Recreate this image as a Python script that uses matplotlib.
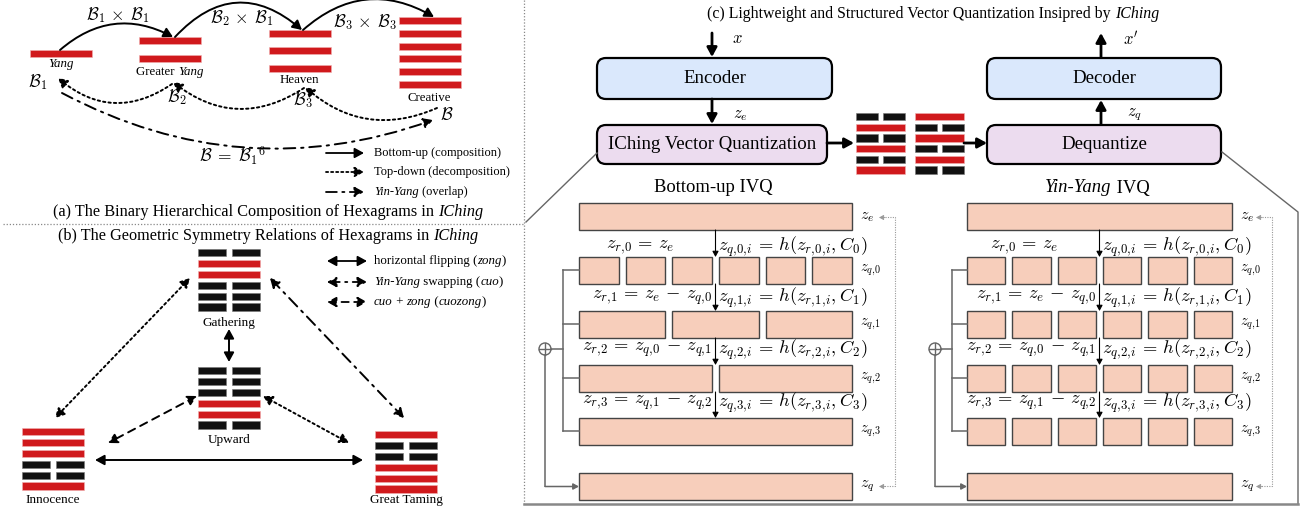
import matplotlib
matplotlib.use('Agg')
import matplotlib.pyplot as plt
from matplotlib.patches import Rectangle, FancyBboxPatch, Circle

plt.rcParams['mathtext.fontset'] = 'cm'
SERIF = 'Liberation Serif'

# ------------------------------------------------------------------ data
chain_names = ['Yang', 'Greater Yang', 'Heaven', 'Creative']
chain_lines = [1, 2, 3, 6]
chain_ops = [r'$\mathcal{B}_1\,\times\,\mathcal{B}_1$', r'$\mathcal{B}_2\,\times\,\mathcal{B}_1$',
             r'$\mathcal{B}_3\,\times\,\mathcal{B}_3$']
chain_syms = [r'$\mathcal{B}_1$', r'$\mathcal{B}_2$', r'$\mathcal{B}_3$', r'$\mathcal{B}$']
overlap_eq = r'$\mathcal{B}\;=\;\mathcal{B}_1{}^6$'
legend_a = [[('Bottom-up (composition)', 'normal')],
            [('Top-down (decomposition)', 'normal')],
            [('Yin-Yang', 'italic'), (' (overlap)', 'normal')]]
legend_b = [[('horizontal flipping (', 'normal'), ('zong', 'italic'), (')', 'normal')],
            [('Yin-Yang', 'italic'), (' swapping (', 'normal'), ('cuo', 'italic'), (')', 'normal')],
            [('cuo', 'italic'), (' + ', 'normal'), ('zong', 'italic'), (' (', 'normal'),
             ('cuozong', 'italic'), (')', 'normal')]]
title_a = [('(a) The Binary Hierarchical Composition of Hexagrams in ', 'normal'), ('IChing', 'italic')]
title_b = [('(b) The Geometric Symmetry Relations of Hexagrams in ', 'normal'), ('IChing', 'italic')]
title_c = [('(c) Lightweight and Structured Vector Quantization Insipred by ', 'normal'),
           ('IChing', 'italic')]
# hexagram lines listed top -> bottom, 1 = yang (solid), 0 = yin (broken)
hex_names = ['Gathering', 'Upward', 'Innocence', 'Great Taming']
hex_patterns = [[0, 1, 1, 0, 0, 0],
                [0, 0, 0, 1, 1, 0],
                [1, 1, 1, 0, 0, 1],
                [1, 0, 0, 1, 1, 1]]
code_patterns = [[0, 1, 0, 1, 0, 1],
                 [1, 0, 1, 0, 1, 0]]
box_texts = ['Encoder', 'IChing Vector Quantization', 'Decoder', 'Dequantize']
ivq_titles = [[('Bottom-up IVQ', 'normal')], [('Yin-Yang', 'italic'), (' IVQ', 'normal')]]
ivq_segments = [[6, 3, 2, 1], [6, 6, 6, 6]]
residual_eqs = [r'$z_{r,\!0}\,=\,z_e$', r'$z_{r,\!1}\,=\,z_e\,-\,z_{q,\!0}$',
                r'$z_{r,\!2}\,=\,z_{q,\!0}\,-\,z_{q,\!1}$', r'$z_{r,\!3}\,=\,z_{q,\!1}\,-\,z_{q,\!2}$']
quant_eqs = [r'$z_{q,\!0,\!i}\,=\,h(z_{r,\!0,\!i},C_0)$', r'$z_{q,\!1,\!i}\,=\,h(z_{r,\!1,\!i},C_1)$',
             r'$z_{q,\!2,\!i}\,=\,h(z_{r,\!2,\!i},C_2)$', r'$z_{q,\!3,\!i}\,=\,h(z_{r,\!3,\!i},C_3)$']
row_labels = [r'$z_e$', r'$z_{q,\!0}$', r'$z_{q,\!1}$', r'$z_{q,\!2}$', r'$z_{q,\!3}$', r'$z_q$']

# ------------------------------------------------------------------ style
RED = '#d0191c'
BLACK = '#111111'
BLUE = '#dae8fc'
PURPLE = '#ecdcef'
PEACH = '#f7cebb'
GRAY = '#666666'

W, H = 1307, 511
fig = plt.figure(figsize=(W / 100, H / 100), dpi=100)
ax = fig.add_axes([0, 0, 1, 1])
ax.set_xlim(0, W)
ax.set_ylim(H, 0)
ax.axis('off')
R = fig.canvas.get_renderer()


def twidth(s, size, style):
    t1 = ax.text(0, 0, s + '|', fontsize=size, style=style, family=SERIF)
    t2 = ax.text(0, 0, '|', fontsize=size, style=style, family=SERIF)
    w = t1.get_window_extent(R).width - t2.get_window_extent(R).width
    t1.remove(); t2.remove()
    return w


def rich(x, y, parts, size, ha='center'):
    ws = [twidth(s, size, st) for s, st in parts]
    tot = sum(ws)
    x0 = x - tot / 2 if ha == 'center' else (x if ha == 'left' else x - tot)
    for (s, st), w in zip(parts, ws):
        ax.text(x0, y, s, fontsize=size, style=st, family=SERIF, ha='left', va='center')
        x0 += w


def arrow(p0, p1, style='-|>', ls='-', lw=1.4, color='k', rad=0.0, ms=10, hl=0.55, hw=0.3):
    st = style if style == '-' else f'{style},head_length={hl},head_width={hw}'
    ax.annotate('', xy=p1, xytext=p0,
                arrowprops=dict(arrowstyle=st, lw=lw, ls=ls, color=color, shrinkA=0, shrinkB=0,
                                mutation_scale=ms, connectionstyle=f'arc3,rad={rad}'))


def draw_hex(x0, top, w, pattern, pitch, thick, gap):
    for k, v in enumerate(pattern):
        y = top + k * pitch
        if v:
            ax.add_patch(Rectangle((x0, y), w, thick, fc=RED, ec='#f0b0b0', lw=0.4))
        else:
            half = (w - gap) / 2
            for xx in (x0, x0 + half + gap):
                ax.add_patch(Rectangle((xx, y), half, thick, fc=BLACK, ec='#777777', lw=0.4))


DOT = (0, (1.2, 1.6))
DASH = (0, (4, 3))
DASHDOT = (0, (6, 3, 1.2, 3))

# ------------------------------------------------------------------ panel (a)
chain_x = [30, 139, 269, 399]
chain_top = [50, 37, 30, 17]
chain_pitch = [0, 18, 17.5, 12.8]
chain_lab_y = [64, 72, 80, 98]
for name, n, x0, t, p, ly in zip(chain_names, chain_lines, chain_x, chain_top, chain_pitch, chain_lab_y):
    draw_hex(x0, t, 62, [1] * n, p, 7, 6)
    if name == 'Yang':
        rich(x0 + 31, ly, [('Yang', 'italic')], 9.3)
    elif name == 'Greater Yang':
        rich(x0 + 31, ly, [('Greater ', 'normal'), ('Yang', 'italic')], 9.3)
    else:
        rich(x0 + 30, ly, [(name, 'normal')], 9.3)

# bottom-up arcs
arrow((60, 50), (173, 37), rad=-0.34)
arrow((175, 37), (302, 30), rad=-0.48)
arrow((303, 30), (434, 17), rad=-0.36)
for s, (x, y) in zip(chain_ops, [(118, 15), (242, 18), (365, 22)]):
    ax.text(x, y, s, fontsize=12.5, ha='center', va='center')
# top-down arcs
arrow((437, 108), (305, 87), ls=DOT, rad=-0.32)
arrow((304, 88), (173, 82), ls=DOT, rad=-0.36)
arrow((172, 84), (58, 78), ls=DOT, rad=-0.38)
# yin-yang arc
arrow((62, 93), (433, 120), ls=DASHDOT, rad=0.22)
for s, (x, y) in zip(chain_syms, [(38, 82), (177, 97), (303, 100), (447, 115)]):
    ax.text(x, y, s, fontsize=12.5, ha='center', va='center')
ax.text(233, 156, overlap_eq, fontsize=12.5, ha='center', va='center')

for parts, y, ls in zip(legend_a, [153, 172, 192], ['-', DOT, DASHDOT]):
    arrow((326, y), (364, y), ls=ls, lw=1.3)
    rich(374, y, parts, 9.0, ha='left')

rich(268, 212, title_a, 11.7)
ax.plot([3, 524], [224, 224], color='#888888', lw=0.9, ls=(0, (1, 1.5)))
rich(268, 236, title_b, 11.7)

# ------------------------------------------------------------------ panel (b)
hex_pos = [(198, 249), (198, 367), (22, 428), (375, 431)]
hex_lab = [(229, 323), (229, 440), (53, 500), (406, 500)]
for name, pat, (x0, t), (lx, ly) in zip(hex_names, hex_patterns, hex_pos, hex_lab):
    draw_hex(x0, t, 62, pat, 10.9, 7.5, 6)
    rich(lx, ly, [(name, 'normal')], 9.5)

arrow((229, 329), (229, 362), style='<|-|>')
arrow((95, 460), (363, 460), style='<|-|>')
arrow((190, 278), (55, 418), style='<|-|>', ls=DOT)
arrow((270, 278), (404, 418), style='<|-|>', ls=DASHDOT)
arrow((197, 396), (108, 443), style='<|-|>', ls=DASH)
arrow((263, 396), (349, 443), style='<|-|>', ls=DOT)

for parts, y, ls in zip(legend_b, [261, 282, 302], ['-', DASHDOT, DASH]):
    arrow((327, y), (367, y), style='<|-|>', ls=ls, lw=1.3)
    rich(374, y, parts, 9.3, ha='left')

# ------------------------------------------------------------------ panel (c)
ax.plot([524, 524], [0, 504], color='#888888', lw=0.9, ls=(0, (1, 1.5)))
rich(933, 14, title_c, 11.4)

boxes = [(597, 58, 235, 41, BLUE), (597, 125, 230, 39, PURPLE),
         (987, 58, 234, 41, BLUE), (987, 125, 234, 39, PURPLE)]
for txt, (x0, y0, w, h, fc) in zip(box_texts, boxes):
    ax.add_patch(FancyBboxPatch((x0, y0), w, h, boxstyle='round,pad=0,rounding_size=9',
                                fc=fc, ec='k', lw=1.6))
    rich(x0 + w / 2, y0 + h / 2, [(txt, 'normal')], 13.6)

arrow((712, 33), (712, 57), lw=2)
arrow((712, 99), (712, 124), lw=2)
arrow((1101, 124), (1101, 100), lw=2)
arrow((1101, 57), (1101, 33), lw=2)
arrow((827, 143), (854, 143), lw=2)
arrow((964, 143), (987, 143), lw=2)
ax.text(737, 38, r'$x$', fontsize=12, ha='center', va='center')
ax.text(740, 114, r'$z_e$', fontsize=12, ha='center', va='center')
ax.text(1135, 114, r'$z_q$', fontsize=12, ha='center', va='center')
ax.text(1131, 40, r"$x'$", fontsize=12, ha='center', va='center')

for pat, x0 in zip(code_patterns, [856, 915]):
    draw_hex(x0, 113, 49, pat, 10.7, 7.3, 5)

# funnel / frame
ax.plot([597, 526], [153, 222], color=GRAY, lw=1.0)
ax.plot([1222, 1298, 1298], [152, 212, 504], color=GRAY, lw=1.0)
ax.plot([524, 1298], [504, 504], color='#888888', lw=1.8)

row_top = [203, 257, 311, 365, 418, 473]
row_h = 27
eq_y = [247, 298, 350, 403]
ivq_x = [(579, 852), (967, 1232)]
brack_x = [563, 952]
oplus_x = [545, 935]
dot_x = [895, 1272]
for ti, (segs, (L, Rr), bx, ox, dx) in enumerate(zip(ivq_segments, ivq_x, brack_x, oplus_x, dot_x)):
    cx = (L + Rr) / 2
    rich(cx - 2, 188, ivq_titles[ti], 13.4)
    # z_e and z_q full bars
    for rt in (row_top[0], row_top[5]):
        ax.add_patch(Rectangle((L, rt), Rr - L, row_h, fc=PEACH, ec='#444444', lw=1.0))
    # quantised rows
    for r, n in enumerate(segs):
        gap = 7
        w = (Rr - L - (n - 1) * gap) / n
        for k in range(n):
            ax.add_patch(Rectangle((L + k * (w + gap), row_top[r + 1]), w, row_h,
                                   fc=PEACH, ec='#444444', lw=1.0))
    # equations and small arrows
    for r in range(4):
        y_from = row_top[r] + row_h
        y_to = row_top[r + 1]
        arrow((cx, y_from), (cx, y_to), lw=0.8, ms=6)
        if r == 0:
            ax.text(cx - 75, eq_y[r], residual_eqs[r], fontsize=13.3, ha='center', va='center')
        else:
            ax.text(cx - 3, eq_y[r], residual_eqs[r], fontsize=13.3, ha='right', va='center')
        ax.text(cx + 3, eq_y[r], quant_eqs[r], fontsize=13.3, ha='left', va='center')
    # row labels
    for r, lab in enumerate(row_labels):
        big = r in (0, 5)
        ax.text(Rr + 8, row_top[r] + row_h / 2, lab, fontsize=11.5 if big else 10.5,
                ha='left', va='center')
    # bracket with oplus
    yc = [row_top[r] + row_h / 2 for r in range(1, 5)]
    ax.plot([bx, bx], [yc[0], yc[-1]], color=GRAY, lw=1.1)
    for y in yc:
        ax.plot([bx, L], [y, y], color=GRAY, lw=1.1)
    yo = 349
    ax.add_patch(Circle((ox, yo), 6, fc='white', ec=GRAY, lw=1.0))
    ax.plot([ox - 6, ox + 6], [yo, yo], color=GRAY, lw=1.0)
    ax.plot([ox, ox], [yo - 6, yo + 6], color=GRAY, lw=1.0)
    ax.plot([ox + 6, bx], [yo, yo], color=GRAY, lw=1.1)
    yq = row_top[5] + row_h / 2
    ax.plot([ox, ox], [yo + 6, yq], color=GRAY, lw=1.1)
    arrow((ox, yq), (L, yq), lw=1.1, color=GRAY, ms=6)
    # dotted feedback z_q -> z_e
    ye = row_top[0] + row_h / 2 + 1
    ax.plot([dx - 13, dx, dx, dx - 13], [yq, yq, ye, ye], color='#999999', lw=0.8, ls=(0, (1, 1.2)))
    arrow((dx - 10, ye), (dx - 16, ye), lw=0.6, color='#999999', ms=5)
    arrow((dx - 10, yq), (dx - 16, yq), lw=0.6, color='#999999', ms=5)

fig.savefig('out.png', dpi=100)
